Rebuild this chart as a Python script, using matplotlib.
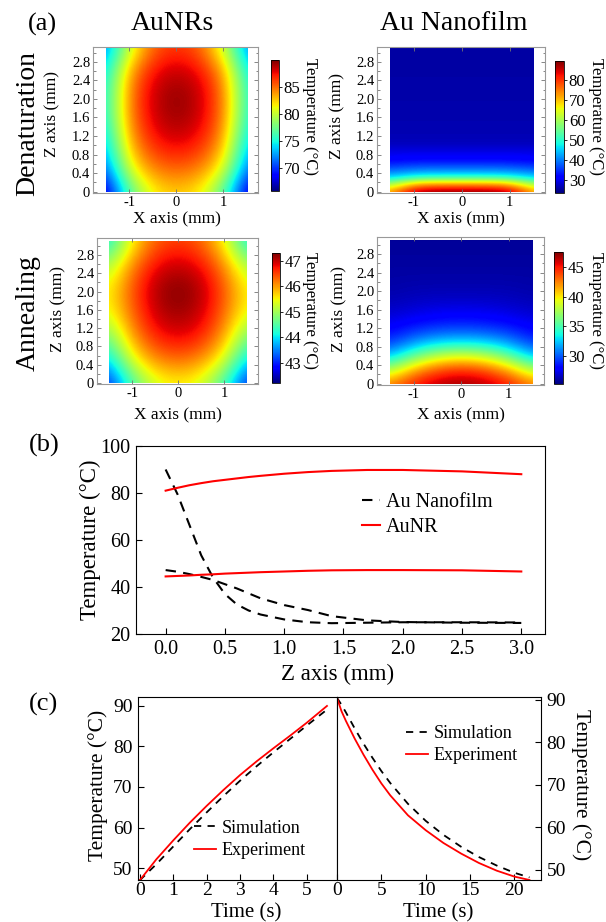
import matplotlib
matplotlib.use('Agg')
import numpy as np
import matplotlib.pyplot as plt
from matplotlib.ticker import MultipleLocator
from matplotlib.patches import Rectangle

plt.rcParams['font.family'] = ['Liberation Serif', 'DejaVu Serif']
plt.rcParams['axes.unicode_minus'] = False

W, H = 606, 922

# ---------------- (a) temperature maps (deg C) ----------------
# columns at x = -1.5, -1.0, -0.5, 0, 0.5, 1.0, 1.5 mm
map_x = [-1.5, -1.0, -0.5, 0.0, 0.5, 1.0, 1.5]
# AuNRs: rows at z = 0, 0.517, ..., 3.1 mm
nr_z = [0.0, 0.517, 1.033, 1.55, 2.067, 2.583, 3.1]
nr_denat = [
    [67.0, 76.5, 81.5, 82.5, 81.5, 76.5, 67.0],
    [71.0, 81.0, 84.7, 85.5, 84.7, 81.0, 71.0],
    [73.0, 83.3, 87.0, 88.0, 87.0, 83.3, 73.0],
    [74.5, 84.5, 88.3, 89.4, 88.3, 84.5, 74.5],
    [74.8, 84.7, 88.6, 89.7, 88.6, 84.7, 74.8],
    [74.0, 83.8, 87.7, 88.8, 87.7, 83.8, 74.0],
    [71.5, 80.0, 85.3, 86.5, 85.3, 80.0, 71.5],
]
nr_anneal = [
    [42.9, 44.4, 45.3, 45.5, 45.3, 44.4, 42.9],
    [43.9, 45.4, 46.1, 46.3, 46.1, 45.4, 43.9],
    [44.7, 46.0, 46.7, 46.9, 46.7, 46.0, 44.7],
    [45.4, 46.3, 47.0, 47.2, 47.0, 46.3, 45.4],
    [45.5, 46.4, 47.1, 47.3, 47.1, 46.4, 45.5],
    [45.0, 46.1, 46.8, 47.0, 46.8, 46.1, 45.0],
    [44.0, 45.5, 46.3, 46.5, 46.3, 45.5, 44.0],
]
# Au nanofilm, denaturation: hot layer rows at z = 0..1.2 mm every 0.1 mm
film_denat_z_low = [0.0, 0.1, 0.2, 0.3, 0.4, 0.5, 0.6, 0.7, 0.8, 0.9, 1.0, 1.1, 1.2]
film_denat_low = [
    [70.0, 86.0, 88.0, 88.0, 88.0, 86.0, 70.0],
    [64.0, 78.0, 79.6, 79.6, 79.6, 78.0, 64.0],
    [56.0, 67.5, 69.0, 69.0, 69.0, 67.5, 56.0],
    [47.0, 53.0, 54.0, 54.0, 54.0, 53.0, 47.0],
    [41.5, 44.5, 45.0, 45.0, 45.0, 44.5, 41.5],
    [37.5, 39.2, 39.5, 39.5, 39.5, 39.2, 37.5],
    [34.0, 35.3, 35.5, 35.5, 35.5, 35.3, 34.0],
    [31.5, 32.0, 32.0, 32.0, 32.0, 32.0, 31.5],
    [30.2, 30.5, 30.5, 30.5, 30.5, 30.5, 30.2],
    [29.0, 29.0, 29.0, 29.0, 29.0, 29.0, 29.0],
    [27.6, 27.6, 27.6, 27.6, 27.6, 27.6, 27.6],
    [27.0, 27.0, 27.0, 27.0, 27.0, 27.0, 27.0],
    [26.6, 26.6, 26.6, 26.6, 26.6, 26.6, 26.6],
]
# and the cold part above, rows at z = 1.2, 2.15, 3.1 mm
film_denat_z_high = [1.2, 2.15, 3.1]
film_denat_high = [
    [26.6, 26.6, 26.6, 26.6, 26.6, 26.6, 26.6],
    [25.9, 25.9, 25.9, 25.9, 25.9, 25.9, 25.9],
    [25.6, 25.6, 25.6, 25.6, 25.6, 25.6, 25.6],
]
# Au nanofilm, annealing: rows at z = 0..3.1 mm every 0.31 mm
film_anneal_z = [0.0, 0.31, 0.62, 0.93, 1.24, 1.55, 1.86, 2.17, 2.48, 2.79, 3.1]
film_anneal = [
    [42.5, 45.0, 46.5, 47.0, 46.5, 45.0, 42.5],
    [37.5, 41.5, 43.7, 44.5, 43.7, 41.5, 37.5],
    [32.0, 35.5, 38.0, 38.8, 38.0, 35.5, 32.0],
    [29.0, 31.0, 32.2, 32.5, 32.2, 31.0, 29.0],
    [27.7, 28.5, 29.0, 29.2, 29.0, 28.5, 27.7],
    [26.8, 27.2, 27.5, 27.6, 27.5, 27.2, 26.8],
    [26.3, 26.5, 26.6, 26.6, 26.6, 26.5, 26.3],
    [26.1, 26.2, 26.2, 26.2, 26.2, 26.2, 26.1],
    [26.0, 26.0, 26.0, 26.0, 26.0, 26.0, 26.0],
    [25.9, 25.9, 25.9, 25.9, 25.9, 25.9, 25.9],
    [25.8, 25.8, 25.8, 25.8, 25.8, 25.8, 25.8],
]

# ---------------- (b) temperature along z ----------------
z_mm = [0, 0.1, 0.2, 0.3, 0.4, 0.5, 0.6, 0.7, 0.8, 1.0, 1.2, 1.4, 1.7, 2.0, 2.5, 3.0]
film_denat_line = [90, 79.5, 66.5, 53.5, 44, 37, 32.6, 30, 28.3, 26.2, 25, 24.6, 24.8, 25, 25, 24.9]
film_anneal_line = [47.2, 46.5, 45.5, 44.3, 43, 41.2, 39.4, 37.3, 35.2, 32.3, 30.2, 27.6, 25.8, 25.1, 24.8, 24.7]
nr_denat_line = [81, 82.2, 83.3, 84.2, 85, 85.6, 86.2, 86.8, 87.3, 88.2, 88.9, 89.4, 89.8, 89.8, 89.2, 88]
nr_anneal_line = [44.5, 44.7, 44.9, 45.2, 45.4, 45.7, 45.9, 46.1, 46.3, 46.6, 46.9, 47.1, 47.2, 47.2, 47.1, 46.6]

# ---------------- (c) heating / cooling ----------------
t_heat = [0, 0.5, 1, 1.5, 2, 2.5, 3, 3.5, 4, 4.5, 5, 5.6]
heat_exp = [47, 52.2, 56.8, 61.2, 65.3, 69.2, 72.9, 76.3, 79.5, 82.6, 85.8, 89.9]
heat_sim = [47, 51, 55.3, 59.6, 63.7, 67.7, 71.5, 75.1, 78.5, 81.8, 85.1, 89]
t_cool = [0, 0.5, 1, 2, 3, 4, 5, 6, 8, 10, 12, 14, 16, 18, 20, 21.7]
cool_exp = [90.4, 87.3, 85, 80.8, 77, 73.5, 70.3, 67.5, 62.8, 59.3, 56.3, 53.8, 51.6, 49.8, 48.4, 47.6]
cool_sim = [90.4, 88.8, 87.0, 83.2, 79.6, 76.3, 73.2, 70.4, 65.5, 61.5, 58.2, 55.4, 53, 51, 49.3, 48.2]


def box(l, t, r, b):
    # pixel box (left, top, right, bottom) -> figure fraction
    return [l / W, 1 - b / H, (r - l) / W, (b - t) / H]


def ftext(x, y, s, **kw):
    fig.text(x / W, 1 - y / H, s, ha='center', va='center', **kw)


def node_extent(xs, zs):
    # grid nodes sit on cell centres
    dx = xs[1] - xs[0]
    dz = zs[1] - zs[0]
    return [xs[0] - dx / 2, xs[-1] + dx / 2, zs[0] - dz / 2, zs[-1] + dz / 2]


def show_map(ax, grid, zs, vmin, vmax):
    im = ax.imshow(grid, extent=node_extent(map_x, zs), origin='lower', cmap='jet',
                   interpolation='bicubic', aspect='auto', vmin=vmin, vmax=vmax)
    im.set_clip_path(Rectangle((-1.5, 0), 3, 3.1, transform=ax.transData))
    return im


fig = plt.figure(figsize=(W / 100, H / 100), dpi=100)

ax1 = fig.add_axes(box(93, 47, 258, 193))
ax2 = fig.add_axes(box(377, 47, 545, 193))
ax3 = fig.add_axes(box(97, 238, 258, 384))
ax4 = fig.add_axes(box(377, 237, 544, 385))
cax1 = fig.add_axes(box(271, 60, 279, 191))
cax2 = fig.add_axes(box(555, 61, 564, 193))
cax3 = fig.add_axes(box(272, 253, 280, 383))
cax4 = fig.add_axes(box(554, 252, 563, 384))

im1 = show_map(ax1, nr_denat, nr_z, 65.7, 90)
show_map(ax2, film_denat_high, film_denat_z_high, 23.5, 89.5)
im2 = show_map(ax2, film_denat_low, film_denat_z_low, 23.5, 89.5)
im3 = show_map(ax3, nr_anneal, nr_z, 42.2, 47.3)
im4 = show_map(ax4, film_anneal, film_anneal_z, 25.3, 47.5)

ylims = [(-0.03, 3.12), (-0.03, 3.12), (-0.02, 3.17), (-0.03, 3.17)]
for ax, yl in zip([ax1, ax2, ax3, ax4], ylims):
    ax.set_xlim(-1.77, 1.74)
    ax.set_ylim(*yl)
    ax.set_xticks([-1, 0, 1])
    ax.set_xticklabels(['-1', '0', '1'])
    ax.set_yticks([0, 0.4, 0.8, 1.2, 1.6, 2.0, 2.4, 2.8])
    ax.set_yticklabels(['0', '0.4', '0.8', '1.2', '1.6', '2.0', '2.4', '2.8'])
    ax.yaxis.set_minor_locator(MultipleLocator(0.2))
    ax.tick_params(which='both', direction='in', top=True, right=True,
                   color='0.45', width=0.6, labelsize=10.5, pad=2)
    ax.tick_params(which='major', length=3)
    ax.tick_params(which='minor', length=1.8)
    for sp in ax.spines.values():
        sp.set_color('0.6')
        sp.set_linewidth(0.8)

cbars = [(im1, cax1, [70, 75, 80, 85]), (im2, cax2, [30, 40, 50, 60, 70, 80]),
         (im3, cax3, [43, 44, 45, 46, 47]), (im4, cax4, [30, 35, 40, 45])]
for im, cax, ticks in cbars:
    cb = fig.colorbar(im, cax=cax, ticks=ticks)
    cb.ax.tick_params(labelsize=12, length=2, width=0.6, pad=1.5)
    cb.outline.set_linewidth(0.6)

# labels of (a)
ftext(42, 24, '(a)', fontsize=19)
ftext(172, 24, 'AuNRs', fontsize=20)
ftext(454, 24, 'Au Nanofilm', fontsize=20)
ftext(28, 123, 'Denaturation', fontsize=20, rotation=90)
ftext(28, 313, 'Annealing', fontsize=20, rotation=90)
for x, y in [(52, 114), (337, 116), (58, 309), (339, 309)]:
    ftext(x, y, 'Z axis (mm)', fontsize=12.5, rotation=90)
for x, y in [(177, 219), (461, 219), (178, 415), (461, 415)]:
    ftext(x, y, 'X axis (mm)', fontsize=12.5)
for x, y in [(310, 117), (596, 117), (310, 311), (596, 311)]:
    ftext(x, y, 'Temperature (°C)', fontsize=12, rotation=270)

# ---------------- (b) ----------------
axb = fig.add_axes(box(136, 446, 545, 634))
axb.plot(z_mm, film_denat_line, color='black', lw=1.5, dashes=(5, 3.5), label='Au Nanofilm')
axb.plot(z_mm, film_anneal_line, color='black', lw=1.5, dashes=(5, 3.5))
axb.plot(z_mm, nr_denat_line, color='red', lw=1.5, label='AuNR')
axb.plot(z_mm, nr_anneal_line, color='red', lw=1.5)
axb.set_xlim(-0.25, 3.2)
axb.set_ylim(20, 100)
axb.set_xticks([0, 0.5, 1.0, 1.5, 2.0, 2.5, 3.0])
axb.set_xticklabels(['0.0', '0.5', '1.0', '1.5', '2.0', '2.5', '3.0'])
axb.set_yticks([20, 40, 60, 80, 100])
axb.tick_params(direction='in', length=4, width=0.8, labelsize=14.5, pad=4)
axb.legend(loc='center left', bbox_to_anchor=(0.552, 0.633), frameon=False, fontsize=14.5,
           handlelength=0.9, handletextpad=0.3, labelspacing=0.3, borderpad=0, borderaxespad=0)
ftext(44, 445, '(b)', fontsize=19)
ftext(90, 540, 'Temperature (°C)', fontsize=16.5, rotation=90)
ftext(338, 674, 'Z axis (mm)', fontsize=16.5)

# ---------------- (c) ----------------
axc1 = fig.add_axes(box(138, 697, 337, 880))
axc2 = fig.add_axes(box(337, 697, 541, 880))
axc1.plot(t_heat, heat_sim, color='black', lw=1.3, dashes=(4, 3.5), label='Simulation')
axc1.plot(t_heat, heat_exp, color='red', lw=1.3, label='Experiment')
axc1.set_xlim(-0.05, 5.9)
axc1.set_ylim(47.1, 92.1)
axc1.set_xticks([0, 1, 2, 3, 4, 5])
axc1.set_yticks([50, 60, 70, 80, 90])
axc1.tick_params(direction='in', length=4, width=0.8, labelsize=14, right=False)
axc1.tick_params(axis='x', pad=1.5)
axc1.tick_params(axis='y', pad=4)
axc1.legend(loc='center left', bbox_to_anchor=(0.283, 0.222), frameon=False, fontsize=13,
            handlelength=1.2, handletextpad=0.3, labelspacing=0.3, borderpad=0, borderaxespad=0)

axc2.plot(t_cool, cool_sim, color='black', lw=1.3, dashes=(4, 3.5), label='Simulation')
axc2.plot(t_cool, cool_exp, color='red', lw=1.3, label='Experiment')
axc2.set_xlim(0, 23)
axc2.set_ylim(47.6, 90.6)
axc2.set_xticks([0, 5, 10, 15, 20])
axc2.set_yticks([50, 60, 70, 80, 90])
axc2.yaxis.tick_right()
axc2.tick_params(direction='in', length=4, width=0.8, labelsize=14)
axc2.tick_params(axis='x', pad=1.5)
axc2.tick_params(axis='y', pad=4)
axc2.legend(loc='center left', bbox_to_anchor=(0.34, 0.739), frameon=False, fontsize=13,
            handlelength=1.2, handletextpad=0.3, labelspacing=0.3, borderpad=0, borderaxespad=0)

ftext(43, 704, '(c)', fontsize=19)
ftext(98, 785, 'Temperature (°C)', fontsize=15.5, rotation=90)
ftext(581, 785, 'Temperature (°C)', fontsize=15.5, rotation=270)
ftext(246, 913, 'Time (s)', fontsize=15)
ftext(438, 913, 'Time (s)', fontsize=15)

fig.savefig('out.png', dpi=100)
